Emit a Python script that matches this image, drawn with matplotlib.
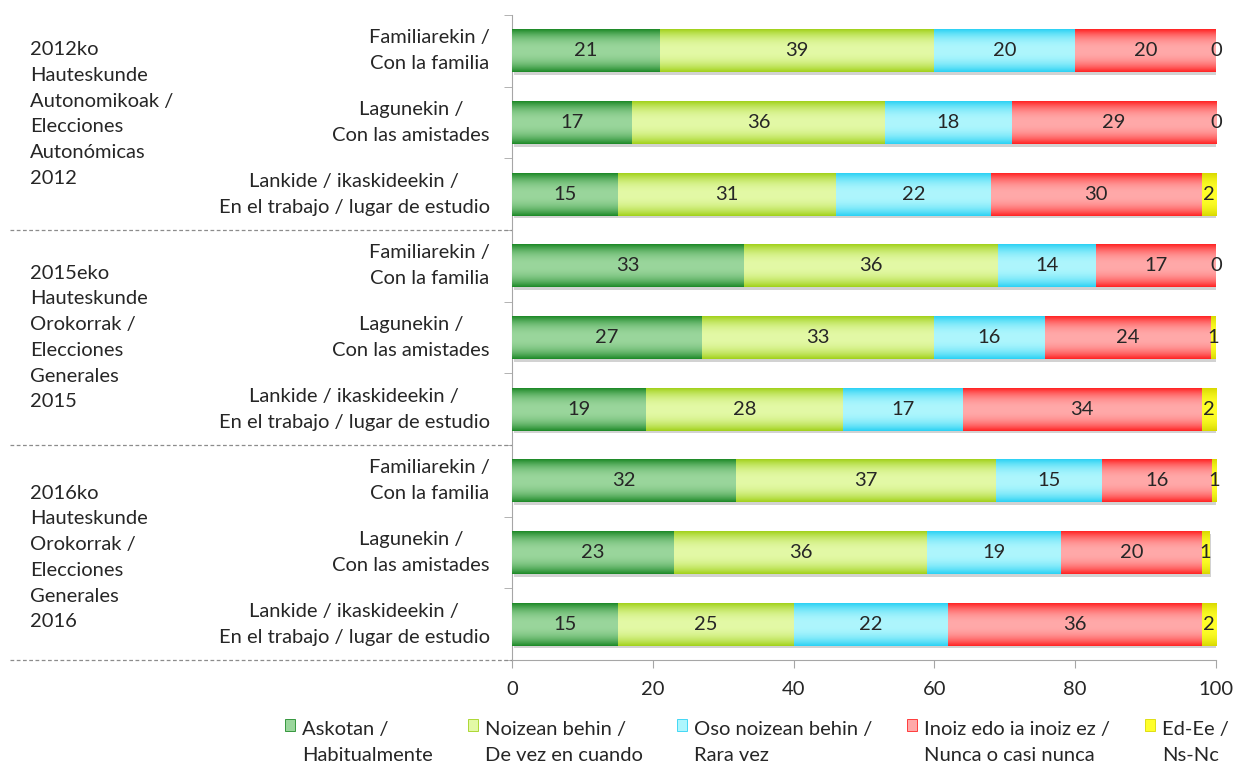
import numpy as np
import matplotlib.pyplot as plt
import matplotlib.patches as mpatches
import matplotlib.patheffects as pe
from matplotlib.colors import to_rgb
from matplotlib.legend_handler import HandlerPatch
from matplotlib.transforms import blended_transform_factory

plt.rcParams['font.family'] = ['Lato', 'DejaVu Sans']
plt.rcParams['font.size'] = 14.5
LS = 1.62

# datos
groups = ['2012ko\nHauteskunde\nAutonomikoak /\nElecciones\nAutonómicas\n2012',
          '2015eko\nHauteskunde\nOrokorrak /\nElecciones\nGenerales\n2015',
          '2016ko\nHauteskunde\nOrokorrak /\nElecciones\nGenerales\n2016']
places = ['Familiarekin /\nCon la familia',
          'Lagunekin /\nCon las amistades',
          'Lankide / ikaskideekin /\nEn el trabajo / lugar de estudio']
rows = places * 3

askotan = [21, 17, 15, 33, 27.0, 19, 31.8, 23, 15]
noizean = [39, 36, 31, 36, 32.9, 28, 37.0, 36, 25]
oso = [20, 18, 22, 14, 15.8, 17, 15.0, 19, 22]
inoiz = [20, 29, 30, 17, 23.6, 34, 15.6, 20, 36]
edee = [0, 0, 2, 0, 0.7, 2, 0.6, 1, 2]

series_labels = ['Askotan /\nHabitualmente', 'Noizean behin /\nDe vez en cuando',
                 'Oso noizean behin /\nRara vez', 'Inoiz edo ia inoiz ez /\nNunca o casi nunca',
                 'Ed-Ee /\nNs-Nc']
series = [askotan, noizean, oso, inoiz, edee]
# (borde, centro) del degradado
colors = [('#1e8a28', '#9ad69c'), ('#a2d21c', '#e3f9a6'), ('#2cd2f4', '#aef6fd'),
          ('#ff2424', '#ffa9a9'), ('#d9d900', '#ffff2a')]


def gradient(edge, center, n=64):
    t = np.linspace(0, 1, n)
    w = np.abs(2 * t - 1) ** 2.3
    e = np.array(to_rgb(edge))
    c = np.array(to_rgb(center))
    return (c[None, :] * (1 - w[:, None]) + e[None, :] * w[:, None])[:, None, :]


fig = plt.figure(figsize=(12.33, 7.63), dpi=100)
ax = fig.add_axes([512 / 1233, 103 / 763, 704 / 1233, 645 / 763])

y = np.arange(len(rows))
left = np.zeros(len(rows))
for vals, (edge, center) in zip(series, colors):
    vals = np.array(vals, dtype=float)
    bars = ax.barh(y, vals, left=left, height=0.6, color=center, zorder=2,
                   path_effects=[pe.SimplePatchShadow(offset=(1.5, -2), shadow_rgbFace='#808080', alpha=0.35),
                                 pe.Normal()])
    img = gradient(edge, center)
    for b, v in zip(bars, vals):
        x0, y0 = b.get_x(), b.get_y()
        if v > 0:
            ax.imshow(img, extent=[x0, x0 + b.get_width(), y0 + b.get_height(), y0],
                      aspect='auto', interpolation='bilinear', zorder=3)
        ax.text(x0 + v / 2, y0 + b.get_height() / 2, f'{v:.0f}', ha='center', va='center',
                color='#262626', zorder=4)
    left += vals

ax.set_xlim(0, 100)
ax.set_ylim(len(rows) - 0.5, -0.5)
ax.set_xticks(np.arange(0, 101, 20))
ax.set_yticks(y, rows)
ax.set_yticks(np.arange(-0.5, len(rows)), minor=True)
for lbl in ax.get_yticklabels():
    lbl.set_multialignment('center')
    lbl.set_linespacing(LS)
    lbl.set_verticalalignment('center')
ax.tick_params(axis='y', which='major', length=0, pad=16, labelcolor='#262626')
ax.tick_params(axis='y', which='minor', length=6, color='#a6a6a6')
ax.tick_params(axis='x', length=6, color='#a6a6a6', pad=9, labelcolor='#262626')
for s in ['top', 'right']:
    ax.spines[s].set_visible(False)
for s in ['left', 'bottom']:
    ax.spines[s].set_color('#a6a6a6')

tr = blended_transform_factory(fig.transFigure, ax.transData)
for g in range(3):
    ax.plot([10 / 1233, 512 / 1233], [3 * g + 2.5] * 2, transform=tr, clip_on=False,
            color='#8c8c8c', lw=0.9, dashes=(3, 2))
for g, off in zip(range(3), [-0.12, 0.0, 0.07]):
    ax.text(30 / 1233, 3 * g + 1 + off, groups[g], transform=tr, ha='left', va='center',
            color='#262626', linespacing=LS)


def top_square(legend, orig_handle, xdescent, ydescent, width, height, fontsize):
    return mpatches.Rectangle((-xdescent, -ydescent + 12.5), width, height)


handles = [mpatches.Patch(facecolor=c, edgecolor=e, lw=0.6) for e, c in colors]
leg = fig.legend(handles, series_labels, ncol=5, loc='upper center', bbox_to_anchor=(0.614, 0.068),
                 frameon=False, handlelength=0.5, handleheight=0.5, handletextpad=0.35,
                 columnspacing=1.72, labelcolor='#262626', borderpad=0,
                 handler_map={mpatches.Patch: HandlerPatch(patch_func=top_square)})
for t in leg.get_texts():
    t.set_linespacing(LS)

fig.savefig('out.png', dpi=100)
